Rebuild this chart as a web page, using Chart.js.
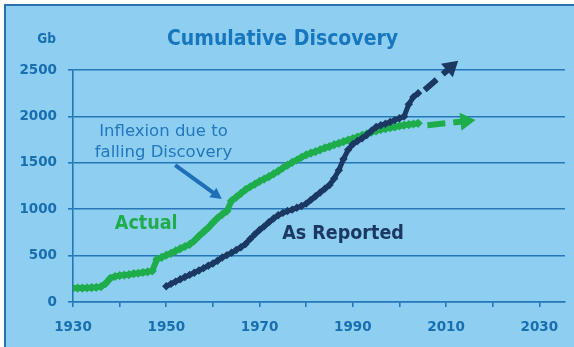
<!DOCTYPE html>
<html>
<head>
<meta charset="utf-8">
<title>Cumulative Discovery</title>
<script src="https://cdn.jsdelivr.net/npm/chart.js@4.4.0/dist/chart.umd.min.js"></script>
<style>
  html, body { margin: 0; padding: 0; background: #fff; }
  #panel {
    position: absolute; left: 4px; top: 4px; width: 570px; height: 343px;
    background: #8dcef1; border-left: 2px solid #2a72ad; border-top: 2px solid #2a72ad;
    box-sizing: border-box;
  }
  #wrap { position: absolute; left: 0; top: 0; width: 574px; height: 347px; }
</style>
</head>
<body>
<div id="panel"></div>
<div id="wrap"><canvas id="chart" width="574" height="347"></canvas></div>
<script>
// cumulative discovery, Gb, one value per year
const actualStart = 1930;
const actualGb = [
  148, 150, 150, 152, 155, 158, 165, 200, 255, 275,
  285, 290, 295, 305, 310, 318, 325, 335, 460, 480,
  505, 525, 550, 575, 598, 620, 660, 710, 755, 800,
  855, 905, 945, 980, 1090, 1130, 1170, 1210, 1242, 1270,
  1300, 1325, 1350, 1380, 1410, 1444, 1475, 1505, 1530, 1560,
  1585, 1605, 1620, 1640, 1660, 1675, 1695, 1710, 1728, 1745,
  1760, 1778, 1795, 1812, 1830, 1845, 1858, 1868, 1878, 1888,
  1897, 1905, 1912, 1918, 1925
];

const reportedStart = 1950;
const reportedGb = [
  170, 195, 220, 245, 270, 292, 315, 340, 365, 390,
  415, 445, 480, 505, 530, 560, 590, 625, 680, 730,
  776, 815, 860, 900, 935, 960, 980, 995, 1015, 1035,
  1060, 1100, 1140, 1180, 1220, 1260, 1330, 1420, 1540, 1640,
  1700, 1735, 1765, 1800, 1845, 1885, 1905, 1920, 1940, 1960,
  1980, 2000, 2130, 2210, 2250
];

// projections beyond the data: [year, Gb] from -> to
const actualArrow = [[2006, 1905], [2016.3, 1960]];
const reportedArrow = [[2005.4, 2285], [2012.6, 2600]];
// pointer from the note to the bend in the curve
const noteArrow = [[1951.9, 1476], [1961.9, 1110]];

const yTicks = [0, 500, 1000, 1500, 2000, 2500];

const GREEN = '#1fad4c';
const NAVY = '#1b3862';
const AXIS_BLUE = '#2677b8';
const LABEL_BLUE = '#186fb0';

function toPoints(start, values) {
  return values.map((v, i) => ({ x: start + i, y: v }));
}

function drawArrow(ctx, x0, y0, x1, y1, color, width, headLen, headWidth, dash) {
  const ang = Math.atan2(y1 - y0, x1 - x0);
  const c = Math.cos(ang), s = Math.sin(ang);
  const bx = x1 - c * headLen, by = y1 - s * headLen;
  ctx.save();
  ctx.strokeStyle = color;
  ctx.fillStyle = color;
  ctx.lineWidth = width;
  ctx.setLineDash(dash || []);
  ctx.beginPath();
  ctx.moveTo(x0, y0);
  ctx.lineTo(bx + c * 2, by + s * 2);
  ctx.stroke();
  ctx.setLineDash([]);
  ctx.beginPath();
  ctx.moveTo(x1, y1);
  ctx.lineTo(bx - s * headWidth / 2, by + c * headWidth / 2);
  ctx.lineTo(bx + s * headWidth / 2, by - c * headWidth / 2);
  ctx.closePath();
  ctx.fill();
  ctx.restore();
}

const notes = {
  id: 'notes',
  afterDatasetsDraw(chart) {
    const ctx = chart.ctx;
    const xs = chart.scales.x, ys = chart.scales.y;
    const px = (p) => [xs.getPixelForValue(p[0]), ys.getPixelForValue(p[1])];

    let a = px(actualArrow[0]), b = px(actualArrow[1]);
    drawArrow(ctx, a[0], a[1], b[0], b[1], GREEN, 6, 15, 18, [18, 8]);
    a = px(reportedArrow[0]); b = px(reportedArrow[1]);
    drawArrow(ctx, a[0], a[1], b[0], b[1], NAVY, 6, 15, 18, [16, 8]);
    a = px(noteArrow[0]); b = px(noteArrow[1]);
    drawArrow(ctx, a[0], a[1], b[0], b[1], '#1f6fb6', 4, 11, 12);

    ctx.save();
    ctx.textAlign = 'center';
    ctx.textBaseline = 'middle';

    ctx.fillStyle = '#2277bd';
    ctx.font = '16.5px "DejaVu Sans"';
    ctx.fillText('Inflexion due to', xs.getPixelForValue(1949.4), ys.getPixelForValue(1835));
    ctx.fillText('falling Discovery', xs.getPixelForValue(1949.4), ys.getPixelForValue(1610));

    ctx.font = 'bold 19.5px "DejaVu Sans Condensed"';
    ctx.fillStyle = GREEN;
    ctx.fillText('Actual', xs.getPixelForValue(1945.7), ys.getPixelForValue(845));
    ctx.fillStyle = NAVY;
    ctx.fillText('As Reported', xs.getPixelForValue(1987.9), ys.getPixelForValue(730));

    // unit label above the value axis
    ctx.textAlign = 'right';
    ctx.fillStyle = LABEL_BLUE;
    ctx.font = 'bold 13.5px "DejaVu Sans Condensed"';
    ctx.fillText('Gb', ys.right - 17, chart.chartArea.top - 31);
    ctx.restore();
  }
};

const tickFont = { family: 'DejaVu Sans', weight: 'bold', size: 13.5 };

new Chart(document.getElementById('chart'), {
  type: 'line',
  data: {
    datasets: [
      {
        label: 'As Reported',
        data: toPoints(reportedStart, reportedGb),
        borderColor: NAVY,
        backgroundColor: NAVY,
        borderWidth: 5,
        pointStyle: 'rectRot',
        pointRadius: 4.2,
        pointBorderWidth: 0,
        tension: 0
      },
      {
        label: 'Actual',
        data: toPoints(actualStart, actualGb),
        borderColor: GREEN,
        backgroundColor: GREEN,
        borderWidth: 6,
        pointStyle: 'rectRot',
        pointRadius: 4.6,
        pointBorderWidth: 0,
        tension: 0
      }
    ]
  },
  options: {
    responsive: false,
    animation: false,
    events: [],
    layout: { padding: { left: 0, right: 9, top: 0, bottom: 0 } },
    plugins: {
      legend: { display: false },
      tooltip: { enabled: false },
      title: {
        display: true,
        text: 'Cumulative Discovery',
        color: '#1676be',
        font: { family: 'DejaVu Sans Condensed', weight: 'bold', size: 21 },
        padding: { top: 27.4, bottom: 17.4 }
      }
    },
    scales: {
      x: {
        type: 'linear',
        min: 1930,
        max: 2035.5,
        afterFit: (s) => { s.height = 45; },
        afterBuildTicks: (s) => { s.ticks = s.ticks.filter(t => t.value % 10 === 0); },
        ticks: {
          stepSize: 10,
          includeBounds: false,
          autoSkip: false,
          maxRotation: 0,
          padding: 12,
          color: LABEL_BLUE,
          font: tickFont,
          callback: (v) => ((v - 1930) % 20 === 0 ? String(v) : '')
        },
        grid: { drawOnChartArea: false, drawTicks: true, tickLength: 5, color: AXIS_BLUE, lineWidth: 1.6 },
        border: { display: true, color: AXIS_BLUE, width: 1.6 }
      },
      y: {
        min: 0,
        max: 2500,
        afterFit: (s) => { s.width = 73; },
        afterBuildTicks: (s) => { s.ticks = yTicks.map(v => ({ value: v })); },
        ticks: {
          padding: 11,
          color: LABEL_BLUE,
          font: tickFont,
          callback: (v) => String(v)
        },
        grid: { color: AXIS_BLUE, lineWidth: 1.6, tickLength: 5 },
        border: { display: true, color: AXIS_BLUE, width: 1.6 }
      }
    }
  },
  plugins: [notes]
});
</script>
</body>
</html>
